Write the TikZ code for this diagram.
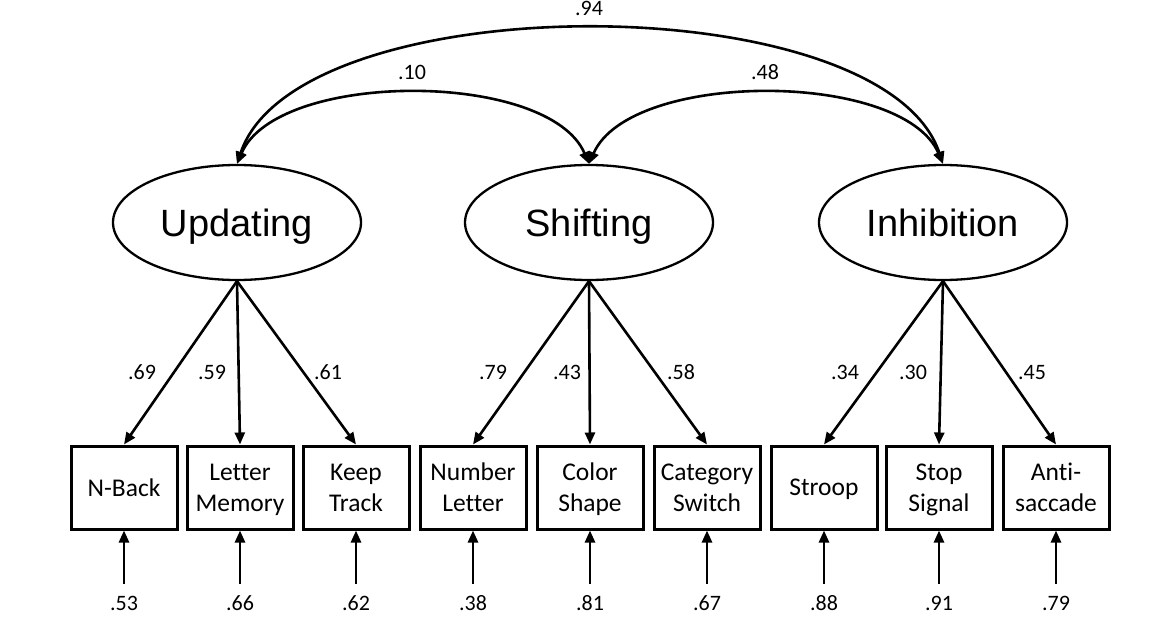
\documentclass[tikz,border=0pt]{standalone}
\usepackage{fontspec}
\setmainfont{Carlito}[Ligatures=NoCommon,Numbers=Lining]
\newfontfamily\arialf{Liberation Sans}
\usetikzlibrary{shapes.geometric,arrows.meta}
\begin{document}
\begin{tikzpicture}[x=1pt,y=-1pt,
  latent/.style={ellipse,draw,line width=2.3pt,minimum width=248pt,minimum height=115pt,inner sep=0pt,text depth=0pt,font=\arialf\fontsize{38}{42}\selectfont},
  obs/.style={rectangle,draw,line width=3pt,minimum width=106pt,minimum height=83pt,inner sep=0pt,text depth=0pt,align=center,font=\fontsize{25.5}{31}\selectfont},
  arr/.style={line width=2.6pt,-{Triangle[length=12pt,width=10pt]}},
  darr/.style={line width=2.6pt,{Triangle[length=12pt,width=10pt]}-{Triangle[length=12pt,width=10pt]}},
  lab/.style={inner sep=0pt,text height=14pt,text depth=0pt,font=\fontsize{22}{24}\selectfont}
]
\useasboundingbox (0,0) rectangle (1172,642);
% latent factors
\node[latent] (U) at (237,222.5) {Updating};
\node[latent] (S) at (589,222.5) {Shifting};
\node[latent] (I) at (943,222.5) {Inhibition};
% observed tasks
\node[obs] (b1) at (124,487.5) {N-Back};
\node[obs] (b2) at (240,487.5) {Letter\\Memory};
\node[obs] (b3) at (356,487.5) {Keep\\Track};
\node[obs] (b4) at (473,487.5) {Number\\Letter};
\node[obs] (b5) at (590,487.5) {Color\\Shape};
\node[obs] (b6) at (707,487.5) {Category\\Switch};
\node[obs] (b7) at (824,487.5) {Stroop};
\node[obs] (b8) at (939,487.5) {Stop\\Signal};
\node[obs] (b9) at (1056,487.5) {Anti-\\saccade};
% loadings
\draw[arr] (U.south) -- (b1.north);
\draw[arr] (U.south) -- (b2.north);
\draw[arr] (U.south) -- (b3.north);
\draw[arr] (S.south) -- (b4.north);
\draw[arr] (S.south) -- (b5.north);
\draw[arr] (S.south) -- (b6.north);
\draw[arr] (I.south) -- (b7.north);
\draw[arr] (I.south) -- (b8.north);
\draw[arr] (I.south) -- (b9.north);
\node[lab] (l1) at (142,372) {.69};
\node[lab] (l2) at (212,372) {.59};
\node[lab] (l3) at (328,372) {.61};
\node[lab] (l4) at (493,372) {.79};
\node[lab] (l5) at (567,372) {.43};
\node[lab] (l6) at (681,372) {.58};
\node[lab] (l7) at (845,372) {.34};
\node[lab] (l8) at (913,372) {.30};
\node[lab] (l9) at (1032,372) {.45};
% residuals
\foreach \i/\x/\v in {1/124/.53,2/240/.66,3/356/.62,4/473/.38,5/590/.81,6/707/.67,7/824/.88,8/939/.91,9/1056/.79}{
  \coordinate (e\i) at (\x,584);
  \draw[arr] (e\i) -- (b\i.south);
  \node[lab] (r\i) at (\x,603) {\v};
}
% correlations
\draw[darr] (U.north) .. controls (277,70) and (549,70) .. (S.north);
\draw[darr] (S.north) .. controls (630,70) and (903,70) .. (I.north);
\draw[darr] (U.north) .. controls (297,-16) and (883,-16) .. (I.north);
\node[lab] (c1) at (412,72) {.10};
\node[lab] (c2) at (765,72) {.48};
\node[lab] (c3) at (589,9) {.94};
\end{tikzpicture}
\end{document}
